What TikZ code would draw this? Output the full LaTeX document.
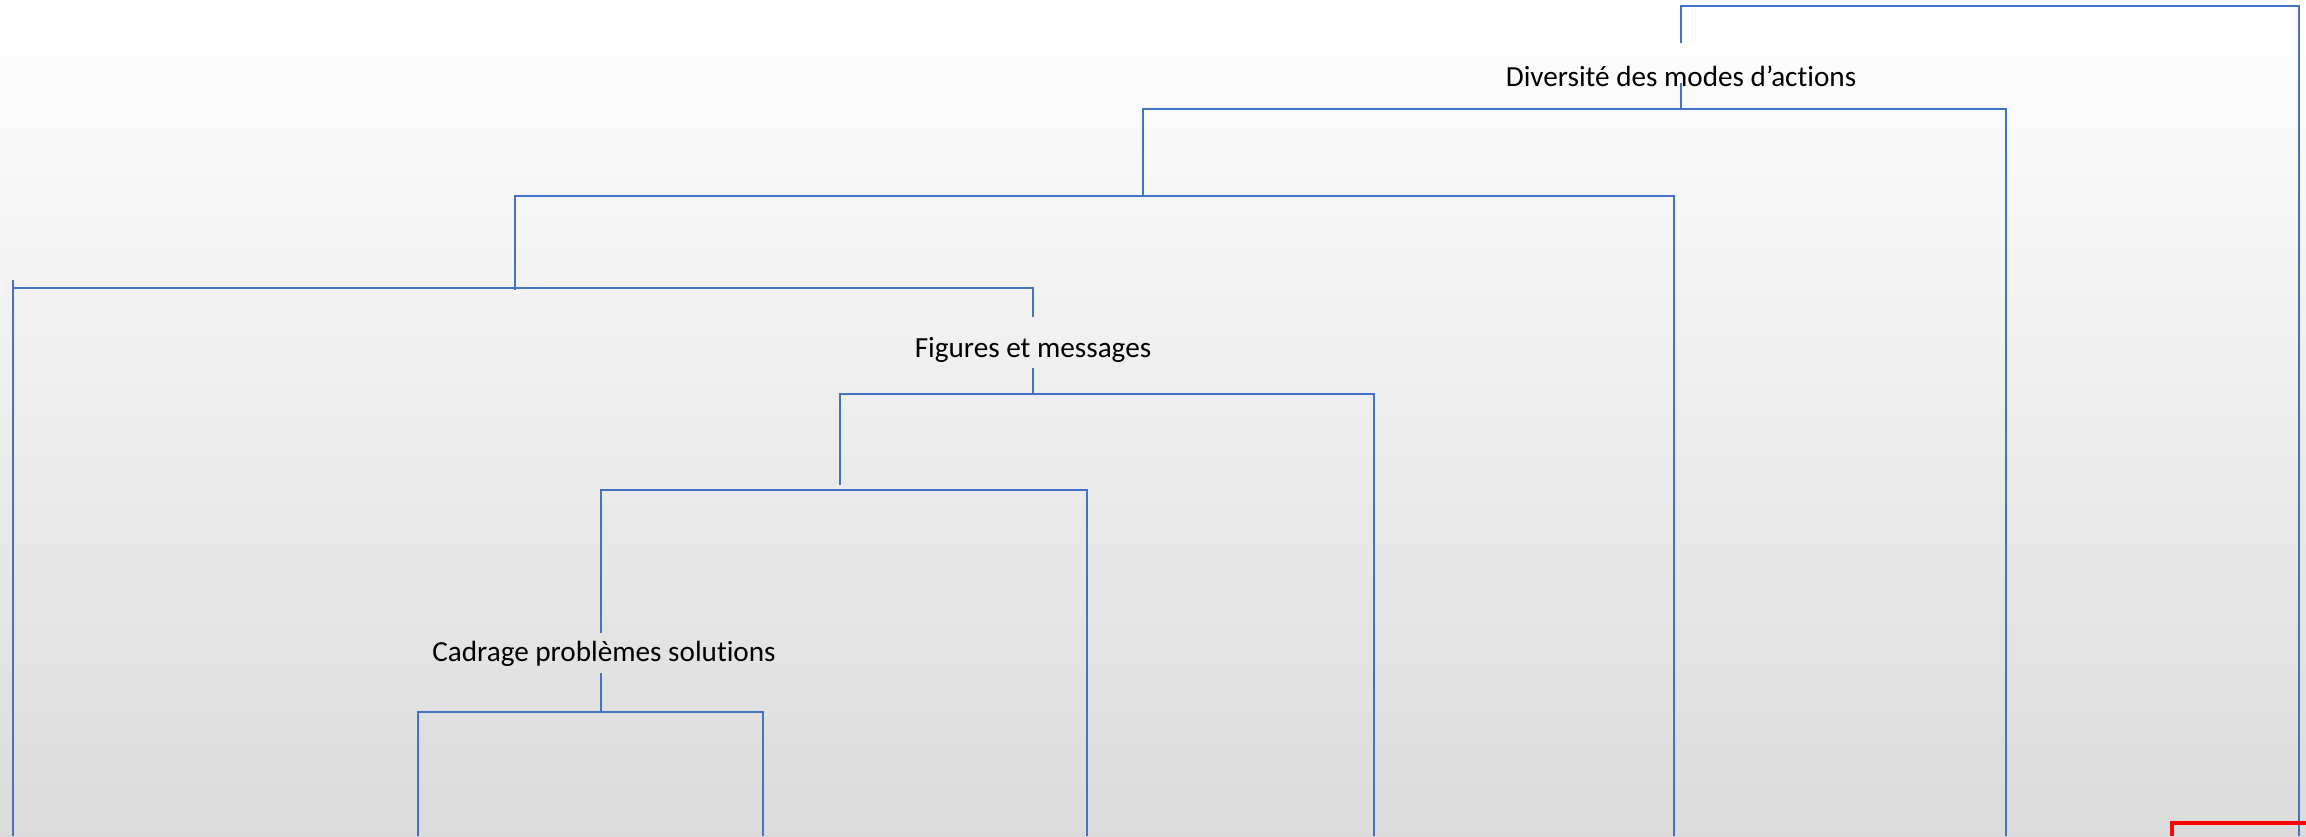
\documentclass[tikz,border=0pt]{standalone}
\usepackage{fontspec}
\setmainfont[Ligatures=CommonOff]{Carlito}
\usetikzlibrary{calc}
\definecolor{linkblue}{HTML}{4472C4}
\tikzset{branch/.style={draw=linkblue,line width=0.6pt},
         frame/.style={draw=red,line width=1pt},
         caption/.style={font=\fontsize{8.3}{10}\selectfont,inner sep=0pt}}

\begin{document}
\begin{tikzpicture}[x=0.01cm,y=-0.01cm]
            \useasboundingbox (0,0) rectangle (2306,836);
            \shade[top color=white,middle color=black!4,bottom color=black!14] (0,0) rectangle (2306,836);
            \node[caption] (diversite) at (1681,76) {Diversité des modes d’actions};
            \node[caption] (figures) at (1033,350) {Figures et messages};
            \node[caption] (cadrage) at (604,654) {Cadrage problèmes solutions};
            \coordinate (a1) at (1681,43);
            \coordinate (a2) at (1681,6);
            \coordinate (a3) at (2299,6);
            \coordinate (a4) at (2299,836);
            \coordinate (b0) at (1681,83);
            \coordinate (b1) at (1143,196);
            \coordinate (b2) at (1143,109);
            \coordinate (b3) at (2006,109);
            \coordinate (b4) at (2006,836);
            \coordinate (c1) at (515,290);
            \coordinate (c2) at (515,196);
            \coordinate (c3) at (1674,196);
            \coordinate (c4) at (1674,836);
            \coordinate (d1) at (13,836);
            \coordinate (d2) at (13,280);
            \coordinate (d5) at (13,288);
            \coordinate (d3) at (1033,288);
            \coordinate (d4) at (1033,317);
            \coordinate (e0) at (1033,368);
            \coordinate (e1) at (840,485);
            \coordinate (e2) at (840,394);
            \coordinate (e3) at (1374,394);
            \coordinate (e4) at (1374,836);
            \coordinate (f1) at (601,633);
            \coordinate (f2) at (601,490);
            \coordinate (f3) at (1087,490);
            \coordinate (f4) at (1087,836);
            \coordinate (g0) at (601,673);
            \coordinate (g1) at (418,836);
            \coordinate (g2) at (418,712);
            \coordinate (g3) at (763,712);
            \coordinate (g4) at (763,836);
            \coordinate (r1) at (2172,836);
            \coordinate (r2) at (2172,823);
            \coordinate (r3) at (2306,823);
            \draw[branch] (a1)--(a2)--(a3)--(a4);
            \draw[branch] (b0)--(b0 |- b2);
            \draw[branch] (b1)--(b2)--(b3)--(b4);
            \draw[branch] (c1)--(c2)--(c3)--(c4);
            \draw[branch] (d1)--(d2);
            \draw[branch] (d5)--(d3)--(d4);
            \draw[branch] (e0)--(e0 |- e2);
            \draw[branch] (e1)--(e2)--(e3)--(e4);
            \draw[branch] (f1)--(f2)--(f3)--(f4);
            \draw[branch] (g0)--(g0 |- g2);
            \draw[branch] (g1)--(g2)--(g3)--(g4);
            \draw[frame] (r1)--(r2)--(r3);
        \end{tikzpicture}
\end{document}
